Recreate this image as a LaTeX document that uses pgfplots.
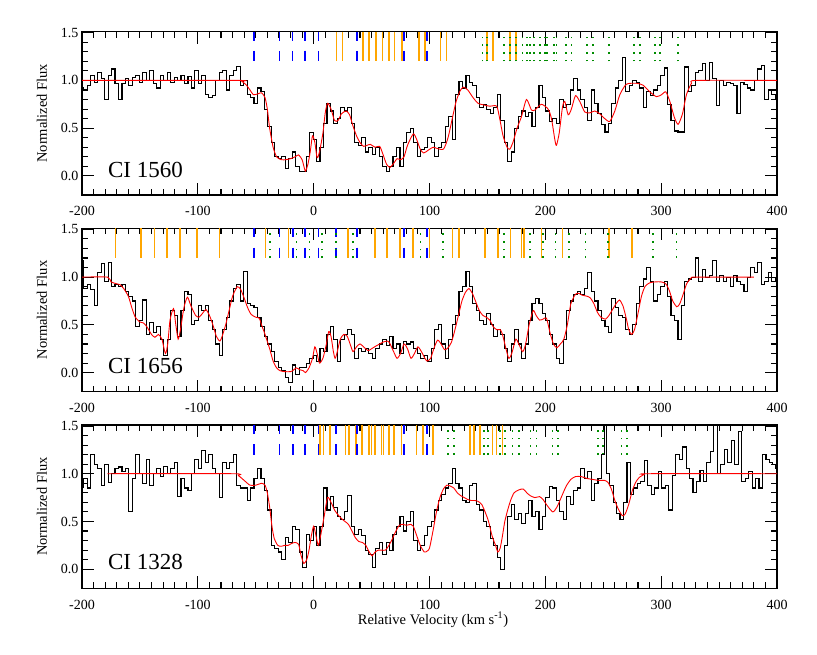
\documentclass[border=0pt]{standalone}
\usepackage{fontspec}
\setmainfont{Liberation Serif}
\usepackage{pgfplots}
\pgfplotsset{compat=1.18}
\definecolor{morange}{rgb}{1,0.65,0}
\definecolor{mgreen}{rgb}{0,0.55,0}
\pgfplotsset{panel/.style={
  width=695pt, height=163.3pt, scale only axis,
  xmin=-200, xmax=400, ymin=-0.2, ymax=1.51,
  xtick={-200,-100,0,100,200,300,400}, xticklabels={-200,-100,0,100,200,300,400},
  ytick={0,0.5,1,1.5}, yticklabels={0.0,0.5,1.0,1.5},
  minor x tick num=9, minor y tick num=4,
  tick align=inside, major tick length=12pt, minor tick length=6pt,
  axis line style={line width=1.5pt},
  every tick/.style={black, line width=1.1pt},
  tick label style={font=\fontsize{14}{16}\selectfont},
  xticklabel style={yshift=-8pt},
  ylabel={Normalized Flux},
  ylabel style={at={(axis description cs:-0.0576,0.5)}, anchor=center, font=\fontsize{14.5}{16}\selectfont},
  clip=true,
},
bluem/.style={blue, line width=1.7pt},
orangem/.style={morange, line width=1.7pt},
greenm/.style={mgreen, line width=1.7pt, dash pattern=on 1.7pt off 6pt},
dat/.style={black, line width=1.1pt, const plot mark mid},
mod/.style={red, line width=0.9pt, smooth, tension=0.4},
}
\newcommand{\bl}[1]{\pgfplotsinvokeforeach{#1}{\addplot[bluem] coordinates {(##1,1.51) (##1,1.415)};\addplot[bluem] coordinates {(##1,1.31) (##1,1.2)};}}
\newcommand{\orl}[1]{\pgfplotsinvokeforeach{#1}{\addplot[orangem] coordinates {(##1,1.51) (##1,1.2)};}}
\newcommand{\grl}[1]{\pgfplotsinvokeforeach{#1}{\addplot[greenm] coordinates {(##1,1.2) (##1,1.51)};}}
\begin{document}
\begin{tikzpicture}
\path[use as bounding box] (0,0) rectangle (817pt,-654pt);
% ---------------- Panel 1: CI 1560
\begin{axis}[panel, at={(82pt,-195pt)}, anchor=south west]
\orl{19.6,24.8,42.6,47.5,54.1,59.3,64.8,69.9,76,90.9,95.9,109.4,114.6,149.7,154.9,169.3,174.5}
\bl{-51.8,-29.4,-18.4,-7.2,4.3,37.7,77.7,97.9}
\grl{145.7,149.7,164.1,169.3,174.5,180.2,184.3,186.6,190.0,195.2,199.5,201.5,207.3,209.6,217.6,222.5,236.1,241.2,255.1,276.4,281.5,294.5,298.8,314.6}
\addplot[dat] coordinates {(-200,0.93) (-197,0.90) (-194,0.95) (-191,1.05) (-188,0.98) (-185,1.08) (-182,1.02) (-179,0.80) (-176,1.05) (-173,1.12) (-170,0.97) (-167,0.80) (-164,0.97) (-161,1.02) (-158,0.95) (-155,1.03) (-152,1.05) (-149,0.98) (-146,1.08) (-143,1.00) (-140,1.10) (-137,0.97) (-134,0.92) (-131,1.05) (-128,1.00) (-125,1.08) (-122,0.98) (-119,1.03) (-116,1.00) (-113,1.05) (-110,0.97) (-107,1.04) (-104,0.92) (-101,1.10) (-98,0.97) (-95,1.05) (-92,0.85) (-89,0.82) (-86,0.84) (-83,1.00) (-80,1.08) (-77,1.10) (-74,0.90) (-71,1.05) (-68,1.10) (-65,1.15) (-62,0.95) (-59,1.00) (-56,0.85) (-53,0.82) (-50,0.76) (-47,0.92) (-44,0.88) (-41,0.70) (-38,0.52) (-35,0.35) (-32,0.20) (-29,0.18) (-26,0.20) (-23,0.08) (-20,0.18) (-17,0.25) (-14,0.10) (-11,0.05) (-8,0.05) (-5,0.20) (-2,0.45) (1,0.38) (4,0.15) (7,0.30) (10,0.55) (13,0.76) (16,0.68) (19,0.55) (22,0.60) (25,0.72) (28,0.68) (31,0.72) (34,0.55) (37,0.35) (40,0.32) (43,0.40) (46,0.25) (49,0.30) (52,0.22) (55,0.30) (58,0.20) (61,0.10) (64,0.05) (67,0.10) (70,0.20) (73,0.30) (76,0.10) (79,0.35) (82,0.45) (85,0.50) (88,0.35) (91,0.20) (94,0.28) (97,0.30) (100,0.40) (103,0.35) (106,0.20) (109,0.30) (112,0.35) (115,0.52) (118,0.62) (121,0.38) (124,0.85) (127,0.99) (130,0.92) (133,1.05) (136,0.98) (139,0.95) (142,0.82) (145,0.72) (148,0.75) (151,0.70) (154,0.65) (157,0.72) (160,0.85) (163,0.58) (166,0.35) (169,0.15) (172,0.25) (175,0.50) (178,0.62) (181,0.68) (184,0.62) (187,0.66) (190,0.52) (193,0.72) (196,0.95) (199,0.82) (202,0.68) (205,0.57) (208,0.60) (211,0.55) (214,0.80) (217,0.72) (220,0.75) (223,0.90) (226,1.02) (229,0.90) (232,0.80) (235,0.72) (238,0.58) (241,0.90) (244,0.76) (247,0.65) (250,0.54) (253,0.46) (256,0.55) (259,0.76) (262,0.92) (265,1.00) (268,1.24) (271,0.88) (274,0.95) (277,1.00) (280,0.98) (283,0.92) (286,0.72) (289,0.88) (292,0.84) (295,0.90) (298,0.95) (301,1.05) (304,1.13) (307,0.75) (310,0.58) (313,0.47) (316,0.46) (319,0.46) (322,1.14) (325,0.88) (328,0.95) (331,1.08) (334,1.10) (337,1.18) (340,1.00) (343,1.19) (346,1.02) (349,0.74) (352,1.00) (355,0.95) (358,0.98) (361,0.97) (364,0.95) (367,0.65) (370,0.98) (373,0.96) (376,0.92) (379,0.90) (382,1.00) (385,1.12) (388,1.16) (391,0.80) (394,0.90) (397,0.85) (400,0.80)};
\addplot[mod] coordinates {(-200,1) (-66,1) (-62,0.99) (-58,0.95) (-55,0.9) (-52,0.85) (-48,0.86) (-45,0.87) (-42,0.82) (-40,0.7) (-38,0.5) (-35,0.3) (-32,0.2) (-28,0.17) (-24,0.17) (-20,0.18) (-16,0.2) (-13,0.22) (-10,0.17) (-8,0.08) (-7,0.05) (-5,0.12) (-3,0.25) (-1,0.42) (1,0.35) (3,0.19) (5,0.25) (8,0.45) (10,0.66) (12,0.76) (15,0.7) (18,0.58) (21,0.58) (24,0.65) (28,0.68) (31,0.64) (34,0.52) (37,0.42) (40,0.35) (43,0.31) (46,0.32) (49,0.33) (53,0.3) (57,0.31) (60,0.22) (63,0.12) (66,0.09) (69,0.13) (72,0.18) (75,0.17) (78,0.2) (81,0.32) (86,0.44) (89,0.38) (92,0.28) (95,0.24) (99,0.27) (103,0.3) (106,0.29) (112,0.28) (116,0.4) (120,0.62) (123,0.78) (126,0.88) (129,0.93) (133,0.9) (137.6,0.82) (142,0.76) (148,0.74) (152,0.73) (158,0.73) (160.6,0.6) (163.5,0.42) (167,0.3) (169.3,0.28) (172,0.35) (175.6,0.5) (179.4,0.62) (183.7,0.8) (188,0.69) (191,0.69) (196.6,0.75) (202.4,0.7) (205.3,0.6) (208.2,0.38) (209.6,0.32) (212,0.45) (214.8,0.72) (216.8,0.78) (219.7,0.64) (222.5,0.7) (226,0.84) (229.7,0.78) (234,0.67) (238.4,0.66) (242.7,0.68) (247,0.65) (251.3,0.6) (255.6,0.57) (260,0.68) (264.3,0.85) (270,0.96) (278.7,0.97) (284.4,0.95) (290.2,0.88) (295.9,0.83) (300.3,0.85) (304,0.88) (307.5,0.78) (311.2,0.62) (314.6,0.54) (318.4,0.65) (321.8,0.85) (326.2,0.97) (330.5,1.0) (400,1.0)};
\node[anchor=base west, font=\fontsize{23}{26}\selectfont] at (axis cs:-180.5,-0.02) {CI 1560};
\end{axis}
% ---------------- Panel 2: CI 1656
\begin{axis}[panel, at={(82pt,-391.7pt)}, anchor=south west]
\orl{-171.2,-148.8,-137.3,-126.7,-115.5,-100.5,-81.2,-41.7,-21.6,29.6,52.7,63.3,74.8,85.8,100.1,119.8,125.2,147.7,159.2,169.9,179.4,181.3,196.6,214.8,255.0,274.9}
\bl{-51.8,-29.4,-17.9,-7.2,4.1,19.0,37.7,77.7,97.9}
\grl{-37.4,-14.9,-3.5,7.2,19.0,33.9,92.1,111.7,164.1,186.5,198.0,208.7,220.2,234.6,254.2,293.0,313.2}
\addplot[dat] coordinates {(-200,1.17) (-197,0.88) (-194,0.92) (-191,0.87) (-188,0.70) (-185,1.05) (-182,1.14) (-179,0.95) (-176,1.15) (-173,0.90) (-170,0.92) (-167,0.90) (-164,0.92) (-161,0.85) (-158,0.80) (-155,0.75) (-152,0.48) (-149,0.55) (-146,0.76) (-143,0.40) (-140,0.52) (-137,0.42) (-134,0.48) (-131,0.35) (-128,0.18) (-125,0.35) (-122,0.65) (-119,0.60) (-116,0.38) (-113,0.65) (-110,0.85) (-107,0.82) (-104,0.50) (-101,0.55) (-98,0.70) (-95,0.65) (-92,0.70) (-89,0.55) (-86,0.45) (-83,0.30) (-80,0.18) (-77,0.45) (-74,0.58) (-71,0.75) (-68,0.88) (-65,0.92) (-62,0.75) (-59,1.06) (-56,0.72) (-53,0.70) (-50,0.68) (-47,0.58) (-44,0.48) (-41,0.38) (-38,0.30) (-35,0.22) (-32,0.12) (-29,0.05) (-26,0.02) (-23,-0.05) (-20,-0.10) (-17,0.08) (-14,-0.02) (-11,0.05) (-8,0.05) (-5,0.10) (-2,0.15) (1,0.18) (4,0.12) (7,0.25) (10,0.22) (13,0.40) (16,0.48) (19,0.35) (22,0.12) (25,0.35) (28,0.40) (31,0.45) (34,0.40) (37,0.15) (40,0.25) (43,0.22) (46,0.25) (49,0.20) (52,0.15) (55,0.25) (58,0.30) (61,0.35) (64,0.28) (67,0.38) (70,0.25) (73,0.30) (76,0.20) (79,0.33) (82,0.30) (85,0.32) (88,0.25) (91,0.20) (94,0.15) (97,0.18) (100,0.12) (103,0.25) (106,0.45) (109,0.50) (112,0.30) (115,0.15) (118,0.35) (121,0.50) (124,0.60) (127,0.85) (130,0.90) (133,1.06) (136,0.90) (139,0.72) (142,0.65) (145,0.55) (148,0.50) (151,0.62) (154,0.50) (157,0.38) (160,0.45) (163,0.40) (166,0.25) (169,0.12) (172,0.30) (175,0.45) (178,0.30) (181,0.15) (184,0.30) (187,0.55) (190,0.72) (193,0.78) (196,0.72) (199,0.62) (202,0.55) (205,0.40) (208,0.30) (211,0.15) (214,0.10) (217,0.35) (220,0.65) (223,0.75) (226,0.82) (229,0.85) (232,0.82) (235,0.88) (238,1.05) (241,0.85) (244,0.75) (247,0.65) (250,0.55) (253,0.48) (256,0.42) (259,0.78) (262,0.68) (265,0.60) (268,0.58) (271,0.45) (274,0.40) (277,0.50) (280,0.72) (283,0.90) (286,0.98) (289,1.10) (292,0.95) (295,0.75) (298,0.82) (301,0.90) (304,0.95) (307,0.80) (310,0.60) (313,0.55) (316,0.35) (319,0.70) (322,0.95) (325,0.98) (328,1.00) (331,1.20) (334,0.95) (337,1.08) (340,1.00) (343,1.02) (346,1.17) (349,0.95) (352,1.02) (355,0.95) (358,1.00) (361,0.90) (364,1.02) (367,0.95) (370,0.92) (373,0.85) (376,1.00) (379,1.10) (382,1.05) (385,1.15) (388,0.92) (391,0.95) (394,1.05) (397,0.95) (400,1.00)};
\addplot[mod] coordinates {(-200,1) (-178,1) (-175,0.95) (-170,0.93) (-167,0.92) (-164,0.88) (-160,0.8) (-157,0.68) (-154,0.58) (-150,0.53) (-147,0.52) (-144,0.48) (-140,0.4) (-137,0.37) (-134,0.4) (-131,0.35) (-128,0.2) (-126,0.3) (-124,0.55) (-121,0.67) (-119,0.5) (-117,0.35) (-115,0.45) (-112,0.68) (-109,0.79) (-106,0.7) (-102,0.6) (-99,0.58) (-96,0.62) (-93,0.66) (-90,0.6) (-87,0.5) (-84,0.38) (-81,0.33) (-79,0.38) (-76,0.5) (-73,0.65) (-70,0.8) (-66,0.9) (-63,0.87) (-60,0.78) (-57,0.68) (-54,0.61) (-50,0.58) (-47,0.57) (-45,0.5) (-42,0.4) (-38,0.25) (-35,0.12) (-32,0.05) (-29,0.02) (-25,0.01) (-20,0.01) (-18,0.02) (-15,0.05) (-12,0.03) (-9,0.02) (-7,0.0) (-4,0.05) (-1,0.15) (1,0.27) (3,0.2) (5,0.1) (8,0.15) (11,0.3) (13,0.43) (15,0.38) (17,0.22) (18.5,0.15) (20,0.2) (23,0.35) (26,0.4) (29,0.38) (32,0.28) (34,0.22) (37,0.27) (40,0.3) (44,0.26) (47,0.23) (50,0.25) (54,0.28) (57,0.3) (60,0.32) (64,0.33) (66,0.3) (69,0.22) (72,0.15) (75,0.2) (78,0.3) (81,0.25) (84,0.15) (87,0.2) (90,0.27) (93,0.22) (96,0.15) (98,0.12) (101,0.15) (104,0.26) (107,0.34) (110,0.3) (113,0.24) (116,0.26) (119,0.32) (122,0.45) (125,0.6) (128,0.75) (131,0.84) (134,0.88) (137,0.83) (140,0.74) (143,0.65) (146,0.6) (149,0.58) (152,0.55) (155,0.48) (158,0.45) (161,0.45) (163,0.4) (166,0.25) (168.5,0.15) (171,0.2) (174.5,0.35) (177,0.3) (180.5,0.22) (183,0.3) (186,0.5) (189.5,0.65) (192,0.6) (195,0.55) (198,0.56) (201,0.57) (204,0.42) (207,0.3) (210,0.26) (213,0.3) (216,0.35) (219,0.5) (222,0.72) (226,0.82) (229,0.83) (232,0.81) (236,0.8) (239,0.78) (242,0.72) (245,0.63) (248,0.58) (252,0.56) (255,0.6) (258,0.66) (261,0.72) (264,0.76) (267,0.7) (270,0.56) (272,0.45) (274.5,0.4) (277,0.45) (280,0.62) (283,0.8) (286,0.9) (290,0.94) (295,0.95) (300,0.95) (304,0.93) (307,0.86) (310,0.75) (313.5,0.69) (316,0.72) (319,0.82) (322,0.93) (326,0.99) (330,1.0) (380,1.0)};
\node[anchor=base west, font=\fontsize{23}{26}\selectfont] at (axis cs:-180.5,-0.01) {CI 1656};
\end{axis}
% ---------------- Panel 3: CI 1328
\begin{axis}[panel, at={(82pt,-588.3pt)}, anchor=south west,
  xlabel={Relative Velocity (km s\textsuperscript{-1})},
  xlabel style={at={(axis description cs:0.505,-0.193)}, anchor=center, font=\fontsize{14.5}{16}\selectfont}]
\orl{5.2,8.6,13.8,27.6,30.5,36.3,42.0,47.5,49.8,52.7,58.5,60.4,64.8,69.3,75.7,88.7,94.4,103.0,134.7,138.2,143.4,154.3,157.8,163.0}
\bl{-51.8,-29.4,-17.9,-7.2,4.3,19.0,37.7,77.7,97.9}
\grl{116.0,120.9,146.8,150.5,160.6,164.9,171.6,177.3,187.1,192.3,206.1,210.9,245.5,249.8,265.7,270.5}
\addplot[dat] coordinates {(-200,0.86) (-197,0.95) (-194,0.85) (-191,1.20) (-188,1.10) (-185,1.05) (-182,0.88) (-179,1.10) (-176,0.91) (-173,1.00) (-170,1.05) (-167,1.07) (-164,1.02) (-161,1.05) (-158,0.60) (-155,0.95) (-152,1.20) (-149,1.00) (-146,0.90) (-143,1.15) (-140,0.88) (-137,1.00) (-134,1.05) (-131,0.97) (-128,1.08) (-125,1.00) (-122,1.05) (-119,1.12) (-116,0.76) (-113,0.95) (-110,0.85) (-107,0.82) (-104,1.00) (-101,1.15) (-98,1.05) (-95,1.24) (-92,1.12) (-89,1.20) (-86,1.05) (-83,1.00) (-80,0.75) (-77,1.12) (-74,1.05) (-71,1.12) (-68,1.20) (-65,0.88) (-62,0.85) (-59,0.85) (-56,0.72) (-53,0.85) (-50,0.95) (-47,1.05) (-44,0.95) (-41,0.82) (-38,0.62) (-35,0.25) (-32,0.22) (-29,0.18) (-26,0.10) (-23,0.33) (-20,0.28) (-17,0.45) (-14,0.42) (-11,0.18) (-8,0.02) (-5,0.36) (-2,0.30) (1,0.45) (4,0.25) (7,0.45) (10,0.85) (13,0.62) (16,0.76) (19,0.65) (22,0.55) (25,0.52) (28,0.60) (31,0.77) (34,0.45) (37,0.36) (40,0.42) (43,0.35) (46,0.20) (49,0.15) (52,0.02) (55,0.22) (58,0.28) (61,0.15) (64,0.28) (67,0.20) (70,0.36) (73,0.45) (76,0.55) (79,0.40) (82,0.50) (85,0.60) (88,0.30) (91,0.20) (94,0.25) (97,0.35) (100,0.45) (103,0.50) (106,0.62) (109,0.72) (112,0.78) (115,0.85) (118,0.90) (121,1.05) (124,0.90) (127,0.85) (130,0.72) (133,0.70) (136,0.88) (139,0.90) (142,0.68) (145,0.62) (148,0.50) (151,0.45) (154,0.32) (157,0.25) (160,0.12) (163,0.00) (166,0.25) (169,0.55) (172,0.68) (175,0.52) (178,0.58) (181,0.48) (184,0.58) (187,0.72) (190,0.55) (193,0.60) (196,0.42) (199,0.55) (202,0.75) (205,0.87) (208,0.85) (211,0.72) (214,0.60) (217,0.52) (220,0.76) (223,0.68) (226,0.82) (229,0.85) (232,1.05) (235,0.95) (238,1.02) (241,0.72) (244,0.90) (247,0.95) (250,1.20) (252,1.60) (254,1.00) (257,0.88) (260,0.70) (263,0.58) (266,0.52) (269,0.70) (272,1.12) (275,0.78) (278,0.85) (281,0.90) (284,0.92) (287,1.14) (290,0.88) (293,0.78) (296,0.85) (299,1.02) (302,0.85) (305,0.88) (308,0.62) (311,0.98) (314,1.20) (317,1.15) (320,1.28) (323,1.05) (326,0.95) (329,0.80) (332,0.92) (335,1.03) (338,0.92) (341,1.12) (344,1.23) (347,1.60) (350,1.00) (353,1.10) (356,1.25) (359,1.12) (362,1.35) (365,1.10) (368,1.44) (371,0.92) (374,0.95) (377,1.02) (380,0.85) (383,0.95) (386,0.85) (389,1.20) (392,1.15) (395,1.12) (398,1.10) (400,1.05)};
\addplot[mod] coordinates {(-178,1) (-70,1) (-65,0.98) (-60,0.93) (-55,0.88) (-50,0.88) (-45,0.9) (-42,0.88) (-40,0.8) (-38,0.65) (-36,0.45) (-34,0.32) (-31,0.25) (-28,0.24) (-25,0.25) (-22,0.25) (-19,0.27) (-16,0.28) (-13,0.26) (-11,0.15) (-8.5,0.06) (-6,0.1) (-4,0.2) (-2,0.35) (0,0.45) (2,0.35) (4,0.25) (6,0.35) (9,0.55) (12,0.75) (15,0.7) (18,0.62) (21,0.57) (24,0.53) (27,0.5) (30,0.47) (33,0.4) (36,0.33) (39,0.29) (42,0.28) (45,0.25) (48,0.18) (50.5,0.14) (53,0.18) (56,0.2) (59,0.2) (62,0.2) (65,0.25) (68,0.32) (71,0.4) (74,0.46) (77,0.47) (80,0.46) (84,0.47) (86,0.45) (89,0.35) (92,0.25) (95.5,0.18) (98,0.19) (100,0.22) (103,0.4) (106,0.6) (109,0.75) (112,0.84) (115,0.88) (118,0.87) (121,0.85) (124,0.8) (127,0.77) (130,0.75) (133,0.73) (136,0.72) (139,0.72) (142,0.71) (145,0.68) (148,0.6) (151,0.5) (154,0.35) (157,0.25) (159,0.18) (161,0.22) (163,0.35) (165,0.5) (167.5,0.62) (170,0.72) (173,0.8) (177,0.83) (181,0.84) (184,0.8) (187,0.77) (191,0.75) (195,0.76) (198,0.73) (202,0.66) (206.5,0.6) (210,0.65) (214,0.76) (218,0.87) (222,0.94) (226,0.97) (231,0.97) (236,0.95) (241,0.94) (246,0.93) (251,0.93) (254,0.91) (257,0.84) (260,0.72) (263,0.63) (266.5,0.56) (269,0.58) (272,0.68) (275,0.82) (278,0.91) (281,0.96) (285,0.99) (289,1.0) (400,1.0)};
\node[anchor=base west, font=\fontsize{23}{26}\selectfont] at (axis cs:-180.5,0.0) {CI 1328};
\end{axis}
\end{tikzpicture}
\end{document}
